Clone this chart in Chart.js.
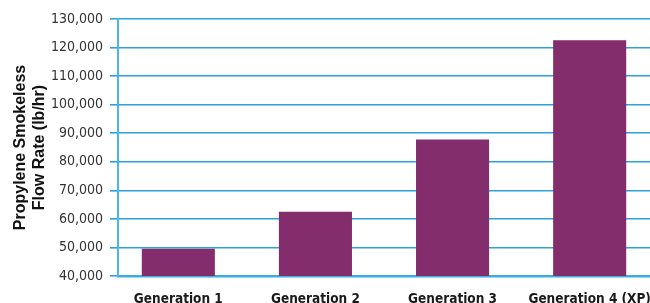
<!DOCTYPE html>
<html>
<head>
<meta charset="utf-8">
<script src="https://cdn.jsdelivr.net/npm/chart.js@4.4.0/dist/chart.umd.min.js"></script>
<style>
html,body{margin:0;padding:0;background:#fff;}
#wrap{width:650px;height:303px;position:relative;}
</style>
</head>
<body>
<div id="wrap"><canvas id="c" width="650" height="303"></canvas></div>
<script>
const categories = ["Generation 1", "Generation 2", "Generation 3", "Generation 4 (XP)"];
const flowRates = [49500, 62500, 87800, 122600];
const yTickValues = [40000, 50000, 60000, 70000, 80000, 90000, 100000, 110000, 120000, 130000];
const yTitle = ["Propylene Smokeless", "Flow Rate (lb/hr)"];

const points = flowRates.map((v, i) => ({ x: i, y: v }));

new Chart(document.getElementById('c'), {
  type: 'bar',
  data: {
    datasets: [{
      data: points,
      backgroundColor: '#832d6c',
      borderWidth: 0,
      barPercentage: 0.533,
      categoryPercentage: 1.0
    }]
  },
  options: {
    responsive: false,
    animation: false,
    layout: { padding: { top: 19, right: 0, bottom: 0, left: 0 } },
    plugins: { legend: { display: false }, tooltip: { enabled: false } },
    scales: {
      x: {
        type: 'linear',
        offset: false,
        min: -0.44,
        max: 3.44,
        afterBuildTicks: (s) => { s.ticks = categories.map((c, i) => ({ value: i })); },
        afterFit: (s) => { s.height = 27; s.paddingLeft = 0; s.paddingRight = 0; },
        grid: { display: false, offset: false },
        border: { display: true, color: '#3aaee3', width: 2.5 },
        ticks: {
          autoSkip: false,
          maxRotation: 0,
          padding: 7,
          color: '#1a1a1a',
          font: { family: '"Liberation Sans Narrow", "DejaVu Sans Condensed", sans-serif', size: 13.5, weight: 'bold' },
          callback: (v) => categories[v] ?? ''
        }
      },
      y: {
        min: 40000,
        max: 130000,
        afterBuildTicks: (s) => { s.ticks = yTickValues.map(v => ({ value: v })); },
        afterFit: (s) => { s.width = 118; },
        grid: { color: '#2ba2dc', lineWidth: 1.6, tickLength: 8 },
        border: { display: true, color: '#4cb8e8', width: 2 },
        ticks: {
          padding: 7,
          color: '#333333',
          font: { family: '"Liberation Sans Narrow", "DejaVu Sans Condensed", sans-serif', size: 14 },
          callback: (v) => v.toLocaleString('en-US')
        },
        title: {
          display: true,
          text: yTitle,
          color: '#111111',
          padding: { top: 11, bottom: 0 },
          font: { family: '"Liberation Sans", Arial, sans-serif', size: 16, weight: 'bold', lineHeight: 1.2 }
        }
      }
    }
  }
});
</script>
</body>
</html>
